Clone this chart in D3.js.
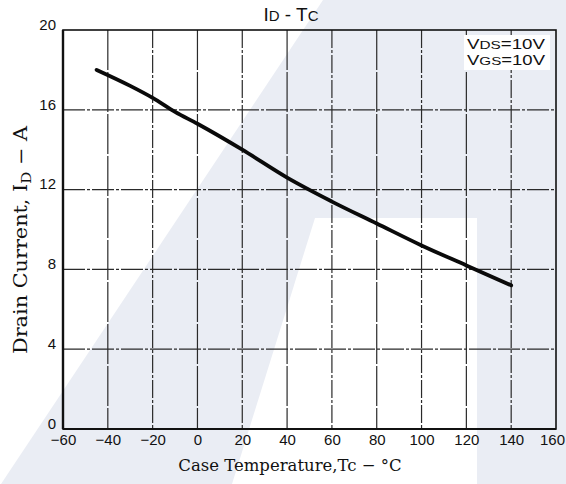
<!DOCTYPE html>
<html>
<head>
<meta charset="utf-8">
<script src="https://cdn.jsdelivr.net/npm/d3@7"></script>
<style>
  html, body { margin: 0; padding: 0; background: #ffffff; }
  svg { display: block; }
</style>
</head>
<body>
<script>
// ---- data ----
const caseTemp = [-45, -30, -20, -10, 0, 20, 40, 60, 80, 100, 120, 140];
const drainCurrent = [18.0, 17.2, 16.6, 15.9, 15.3, 14.0, 12.6, 11.4, 10.3, 9.2, 8.2, 7.2];
const xTicks = [-60, -40, -20, 0, 20, 40, 60, 80, 100, 120, 140, 160];
const yTicks = [0, 4, 8, 12, 16, 20];
const legendLines = [["V", "DS", "=10V"], ["V", "GS", "=10V"]];

const W = 566, H = 484;
const m = { left: 63, right: 10, top: 30, bottom: 55 };

const svg = d3.select("body").append("svg").attr("width", W).attr("height", H);

// faint watermark behind the scan
const wm = svg.append("g");
wm.append("path").attr("d", "M1,484 L566,484 L566,0 L323,0 Z").attr("fill", "#eaedf4");
wm.append("path").attr("d", "M232,484 L315,218 L477,218 L477,484 Z").attr("fill", "#ffffff");

const x = d3.scaleLinear().domain([-60, 160]).range([m.left, W - m.right]);
const y = d3.scaleLinear().domain([0, 20]).range([H - m.bottom, m.top]);

const ink = "#111";

// grid
const grid = svg.append("g").attr("stroke", "#2a2a2a").attr("stroke-width", 1.2).attr("fill", "none");
grid.selectAll("line.v").data(xTicks.slice(1, -1)).join("line")
  .attr("x1", d => x(d)).attr("x2", d => x(d))
  .attr("y1", y(20)).attr("y2", y(0))
  .attr("stroke-dasharray", (d, i) => i % 2 ? "18,2,3,2" : "40,2");
grid.selectAll("line.h").data(yTicks.slice(1, -1)).join("line")
  .attr("x1", x(-60)).attr("x2", x(160))
  .attr("y1", d => y(d)).attr("y2", d => y(d))
  .attr("stroke-dasharray", "22,2,3,2");

// legend backdrop
svg.append("rect").attr("x", 464).attr("y", 35).attr("width", 86).attr("height", 35).attr("fill", "#ffffff");

// frame
svg.append("rect")
  .attr("x", x(-60)).attr("y", y(20))
  .attr("width", x(160) - x(-60)).attr("height", y(0) - y(20))
  .attr("fill", "none").attr("stroke", ink).attr("stroke-width", 1.6);
svg.append("line").attr("x1", x(-60)).attr("x2", x(-60)).attr("y1", y(20)).attr("y2", y(0))
  .attr("stroke", ink).attr("stroke-width", 2.4);
svg.append("line").attr("x1", x(-60)).attr("x2", x(160)).attr("y1", y(0)).attr("y2", y(0))
  .attr("stroke", ink).attr("stroke-width", 2);

// axes (labels only)
const tickFont = "Liberation Sans, Arial, sans-serif";
const xAxis = svg.append("g").attr("transform", `translate(0,${y(0)})`)
  .call(d3.axisBottom(x).tickValues(xTicks).tickSize(0).tickPadding(5).tickFormat(d => d < 0 ? "\u2212" + Math.abs(d) : d));
xAxis.select(".domain").remove();
xAxis.selectAll("text").attr("font-family", tickFont).attr("font-size", 15).attr("fill", ink)
  .attr("dx", d => d === 160 ? -4 : 0);

const yAxis = svg.append("g").attr("transform", `translate(${x(-60)},0)`)
  .call(d3.axisLeft(y).tickValues(yTicks).tickSize(0).tickPadding(7));
yAxis.select(".domain").remove();
yAxis.selectAll("text").attr("font-family", tickFont).attr("font-size", 15).attr("fill", ink)
  .attr("dy", "-0.05em");

// curve
svg.append("path")
  .datum(caseTemp.map((t, i) => [t, drainCurrent[i]]))
  .attr("fill", "none").attr("stroke", "#0a0a0a").attr("stroke-width", 3.8)
  .attr("stroke-linecap", "round")
  .attr("d", d3.line().x(d => x(d[0])).y(d => y(d[1])).curve(d3.curveMonotoneX));

// title
const title = svg.append("text").attr("x", 291).attr("y", 21).attr("text-anchor", "middle")
  .attr("font-family", tickFont).attr("font-size", 19).attr("fill", ink);
title.append("tspan").text("I");
title.append("tspan").attr("font-size", 15).text("D");
title.append("tspan").text(" - T");
title.append("tspan").attr("font-size", 15).text("C");

// legend text
legendLines.forEach((l, i) => {
  const t = svg.append("text").attr("x", 467).attr("y", 49 + i * 16)
    .attr("font-family", tickFont).attr("font-size", 14).attr("fill", ink)
    .attr("textLength", 78).attr("lengthAdjust", "spacingAndGlyphs");
  t.append("tspan").text(l[0]);
  t.append("tspan").attr("font-size", 11.5).text(l[1]);
  t.append("tspan").text(l[2]);
});

// axis titles
const serif = "DejaVu Serif, Liberation Serif, serif";
const xt = svg.append("text").attr("x", 290).attr("y", 471).attr("text-anchor", "middle")
  .attr("font-family", serif).attr("font-size", 16.5).attr("fill", ink);
xt.append("tspan").text("Case Temperature,Tc \u2212 \u00b0C");

const yt = svg.append("text").attr("transform", "translate(27,240) rotate(-90)")
  .attr("text-anchor", "middle").attr("font-family", serif).attr("font-size", 18).attr("fill", ink)
  .attr("textLength", 228).attr("lengthAdjust", "spacingAndGlyphs");
yt.append("tspan").text("Drain Current, I");
yt.append("tspan").attr("font-size", 13).attr("dy", 4).text("D");
yt.append("tspan").attr("dy", -4).text(" \u2212 A");
</script>
</body>
</html>
